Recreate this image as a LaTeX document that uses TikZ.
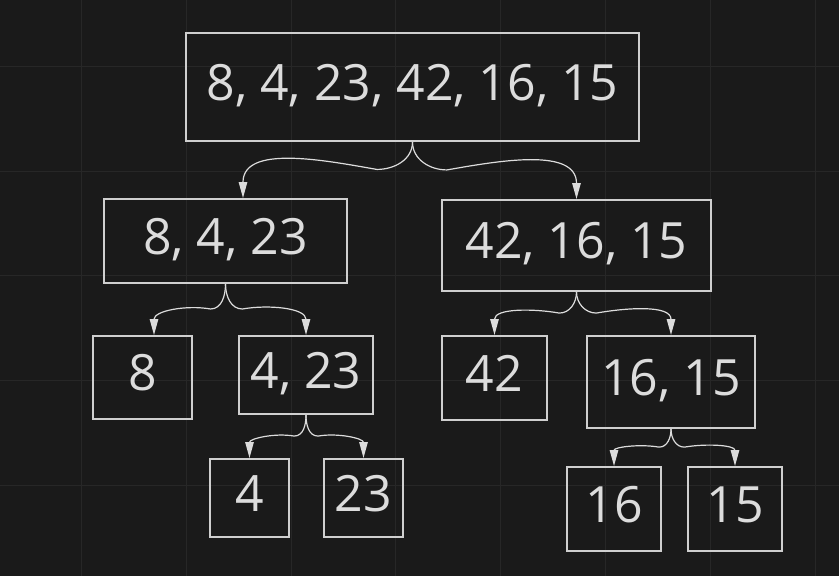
\documentclass[tikz,border=0pt]{standalone}
\usepackage{fontspec}
\setmainfont{Open Sans}
\usetikzlibrary{arrows.meta,calc}
\definecolor{canvas}{HTML}{1A1A1A}
\definecolor{gridline}{HTML}{272727}
\definecolor{boxline}{HTML}{CFCFCF}
\definecolor{ink}{HTML}{DCDCDC}
\tikzset{%
  tipS/.tip={Triangle[length=16pt,width=8.5pt]},
  cell/.style={draw=boxline, line width=2pt, text=ink, inner sep=0pt,
    font=\fontsize{50}{60}\selectfont, text height=35.7pt, text depth=9pt},
  link/.style={draw=ink, line width=1.2pt, -tipS},
}
% parent, arrow end, angle into the dip, angle out of the dip
\newcommand{\splitarrow}[4]{%
  \coordinate (sx) at ($(#1.south)!0.21!(#2)$);
  \coordinate (sy) at ($(#1.south)!0.49!(#2)$);
  \draw[link] (#1.south) to[out=-90,in=#3] (sx |- sy) to[out=#4,in=90] (#2);
}

\begin{document}
\begin{tikzpicture}[x=1pt,y=1pt]
\useasboundingbox (0,0) rectangle (839,-576);
\fill[canvas] (0,0) rectangle (839,-576);
\foreach \i in {0,...,7} \draw[gridline, line width=1pt] ({81.5+104.8*\i},0) -- ({81.5+104.8*\i},-576);
\foreach \j in {0,...,5} \draw[gridline, line width=1pt] (0,{-66.5-104.7*\j}) -- (839,{-66.5-104.7*\j});
% boxes
\node[cell, minimum width=453pt, minimum height=108pt] (all) at (412.5,-87) {8, 4, 23, 42, 16, 15};
\node[cell, minimum width=243pt, minimum height=84pt] (a) at (225.5,-241) {8, 4, 23};
\node[cell, minimum width=269pt, minimum height=91pt] (b) at (576.5,-245.5) {42, 16, 15};
\node[cell, minimum width=99pt, minimum height=83pt] (aa) at (142.5,-377.5) {8};
\node[cell, minimum width=134pt, minimum height=78pt] (ab) at (306,-375) {4, 23};
\node[cell, minimum width=105pt, minimum height=84pt] (ba) at (494.5,-378) {42};
\node[cell, minimum width=168pt, minimum height=92pt] (bb) at (671,-382) {16, 15};
\node[cell, minimum width=79pt, minimum height=78pt] (aba) at (249.5,-498) {4};
\node[cell, minimum width=79pt, minimum height=78pt] (abb) at (363.5,-498) {23};
\node[cell, minimum width=94pt, minimum height=84pt] (bba) at (614,-509) {16};
\node[cell, minimum width=94pt, minimum height=84pt] (bbb) at (735,-509) {15};
% arrow ends
\coordinate (a-in) at ([xshift=17.5]a.north);
\coordinate (aa-in) at ([xshift=11.5]aa.north);
% splits
\splitarrow{all}{a-in}{0}{170}
\splitarrow{all}{b.north}{180}{10}
\splitarrow{a}{aa-in}{0}{170}
\splitarrow{a}{ab.north}{180}{10}
\splitarrow{b}{ba.north}{0}{170}
\splitarrow{b}{bb.north}{180}{10}
\splitarrow{ab}{aba.north}{0}{170}
\splitarrow{ab}{abb.north}{180}{10}
\splitarrow{bb}{bba.north}{0}{170}
\splitarrow{bb}{bbb.north}{180}{10}
\end{tikzpicture}
\end{document}
